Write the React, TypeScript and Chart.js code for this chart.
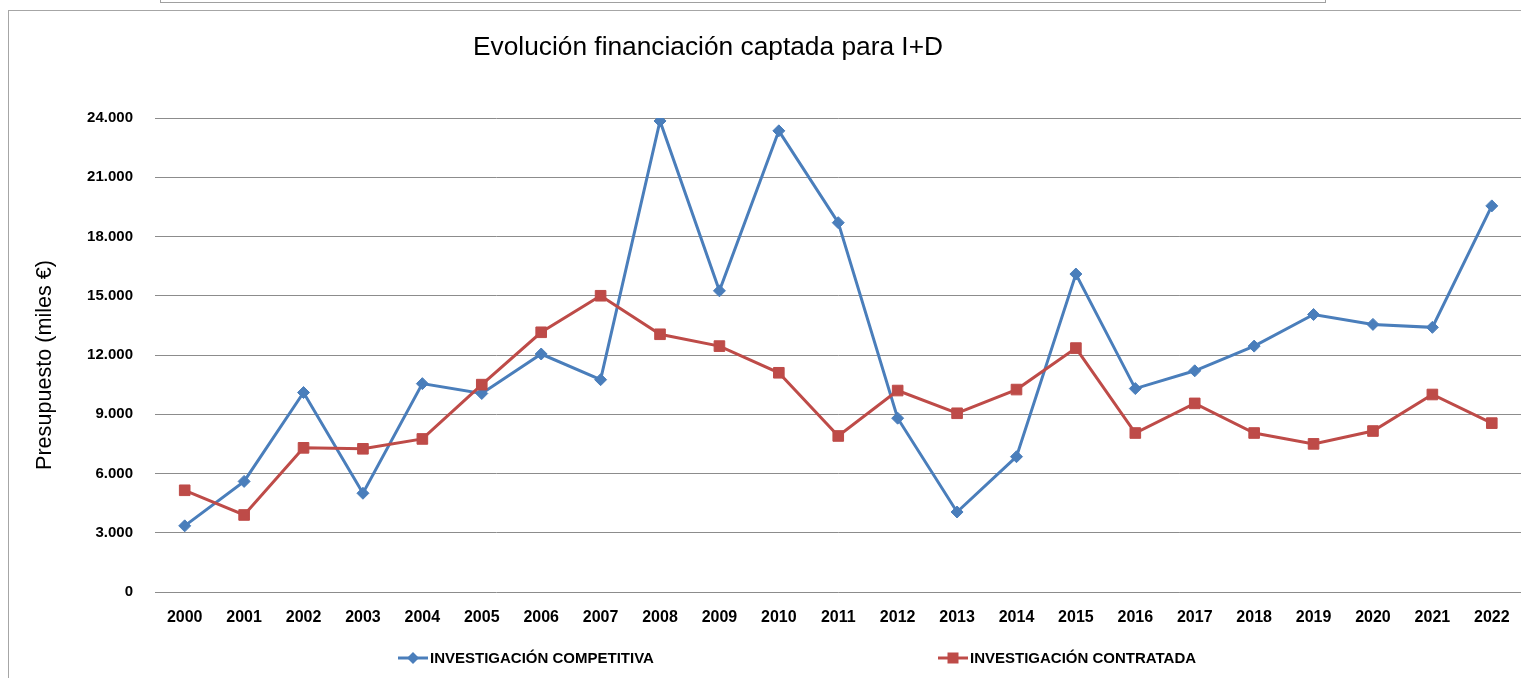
import React, { useEffect, useRef } from 'react';
import { Chart, registerables } from 'chart.js';

Chart.register(...registerables);

const YEARS = ['2000', '2001', '2002', '2003', '2004', '2005', '2006', '2007', '2008', '2009', '2010', '2011', '2012', '2013', '2014', '2015', '2016', '2017', '2018', '2019', '2020', '2021', '2022'];
const COMPETITIVA = [3350, 5600, 10100, 5000, 10550, 10050, 12050, 10750, 23850, 15250, 23350, 18700, 8800, 4050, 6850, 16100, 10300, 11200, 12450, 14050, 13550, 13400, 19550];
const CONTRATADA = [5150, 3900, 7300, 7250, 7750, 10500, 13150, 15000, 13050, 12450, 11100, 7900, 10200, 9050, 10250, 12350, 8050, 9550, 8050, 7500, 8150, 10000, 8550];
const Y_TICKS = [0, 3000, 6000, 9000, 12000, 15000, 18000, 21000, 24000];
const SERIES_NAMES = ['INVESTIGACIÓN COMPETITIVA', 'INVESTIGACIÓN CONTRATADA'];
const TITLE = 'Evolución financiación captada para I+D';
const Y_TITLE = 'Presupuesto (miles €)';

const FONT = "'Liberation Sans', Arial, sans-serif";
const BLUE = '#4A7EBB';
const RED = '#BE4B48';

function fmt(v: number): string {
  if (v === 0) return '0';
  const th = Math.floor(v / 1000);
  const rest = v % 1000;
  return th + '.' + String(rest).padStart(3, '0');
}

const overlayPlugin = {
  id: 'overlay',
  afterDraw(chart: any) {
    const ctx = chart.ctx as CanvasRenderingContext2D;
    ctx.save();
    // Title
    ctx.fillStyle = '#000';
    ctx.font = `26.3px ${FONT}`;
    ctx.textAlign = 'center';
    ctx.textBaseline = 'middle';
    ctx.fillText(TITLE, 708, 48);
    // Y axis title
    ctx.save();
    ctx.translate(45, 365);
    ctx.rotate(-Math.PI / 2);
    ctx.font = `21.6px ${FONT}`;
    ctx.fillText(Y_TITLE, 0, 0);
    ctx.restore();
    // Legend
    const xs = [398, 938];
    const ly = 658;
    chart.data.datasets.forEach((ds: any, i: number) => {
      const x = xs[i];
      ctx.strokeStyle = ds.borderColor;
      ctx.lineWidth = 3;
      ctx.beginPath();
      ctx.moveTo(x, ly);
      ctx.lineTo(x + 30, ly);
      ctx.stroke();
      ctx.fillStyle = ds.borderColor;
      const cx = x + 15;
      ctx.beginPath();
      if (ds.pointStyle === 'rectRot') {
        const r = 6;
        ctx.moveTo(cx - r, ly);
        ctx.lineTo(cx, ly - r);
        ctx.lineTo(cx + r, ly);
        ctx.lineTo(cx, ly + r);
        ctx.closePath();
      } else {
        const s = 5.5;
        ctx.rect(cx - s, ly - s, 2 * s, 2 * s);
      }
      ctx.fill();
      ctx.fillStyle = '#000';
      ctx.font = `bold 15px ${FONT}`;
      ctx.textAlign = 'left';
      ctx.textBaseline = 'middle';
      ctx.fillText(ds.label, x + 32, ly + 1);
    });
    ctx.restore();
  },
};

export default function App() {
  const ref = useRef<HTMLCanvasElement | null>(null);

  useEffect(() => {
    if (!ref.current) return;
    const chart = new Chart(ref.current, {
      type: 'line',
      data: {
        labels: YEARS,
        datasets: [
          {
            label: SERIES_NAMES[0],
            data: COMPETITIVA,
            borderColor: BLUE,
            backgroundColor: BLUE,
            borderWidth: 3,
            pointStyle: 'rectRot',
            pointRadius: 6,
            pointBorderWidth: 1,
            pointBackgroundColor: BLUE,
            pointBorderColor: BLUE,
            tension: 0,
            order: 1,
          },
          {
            label: SERIES_NAMES[1],
            data: CONTRATADA,
            borderColor: RED,
            backgroundColor: RED,
            borderWidth: 3,
            pointStyle: 'rect',
            pointRadius: 7.5,
            pointBorderWidth: 1,
            pointBackgroundColor: RED,
            pointBorderColor: RED,
            tension: 0,
            order: 0,
          },
        ],
      },
      options: {
        responsive: false,
        animation: false,
        devicePixelRatio: 1,
        layout: { padding: { left: 0, top: 118, right: 0, bottom: 46 } },
        plugins: {
          legend: { display: false },
          title: { display: false },
          tooltip: { enabled: false },
        },
        scales: {
          x: {
            offset: true,
            grid: { display: false, drawTicks: false },
            border: { display: false },
            ticks: {
              color: '#000',
              padding: 16,
              maxRotation: 0,
              autoSkip: false,
              font: { family: FONT, size: 16, weight: 'bold' },
            },
            afterFit: (s: any) => {
              s.height = 40;
              s.paddingLeft = 0;
              s.paddingRight = 0;
            },
          },
          y: {
            min: 0,
            max: 24000,
            grid: { color: '#8C8C8C', lineWidth: 1, drawTicks: false },
            border: { display: false },
            afterBuildTicks: (s: any) => {
              s.ticks = Y_TICKS.map((v) => ({ value: v }));
            },
            ticks: {
              color: '#000',
              padding: 22,
              font: { family: FONT, size: 15, weight: 'bold' },
              callback: (v: any) => fmt(Number(v)),
            },
            afterFit: (s: any) => {
              s.width = 155;
              s.paddingTop = 0;
              s.paddingBottom = 0;
            },
          },
        },
      },
      plugins: [overlayPlugin],
    });
    return () => chart.destroy();
  }, []);

  return (
    <div style={{ position: 'fixed', left: 0, top: 0, width: 1521, height: 678, overflow: 'hidden', background: '#fff' }}>
      <div
        style={{
          position: 'absolute',
          left: 160,
          top: -20,
          width: 1166,
          height: 23,
          boxSizing: 'border-box',
          border: '1px solid #A0A0A0',
        }}
      />
      <div
        style={{
          position: 'absolute',
          left: 8,
          top: 10,
          width: 1600,
          height: 800,
          boxSizing: 'border-box',
          border: '1px solid #A6A6A6',
        }}
      />
      <canvas ref={ref} width={1530} height={678} style={{ position: 'absolute', left: 0, top: 0, width: 1530, height: 678 }} />
    </div>
  );
}
